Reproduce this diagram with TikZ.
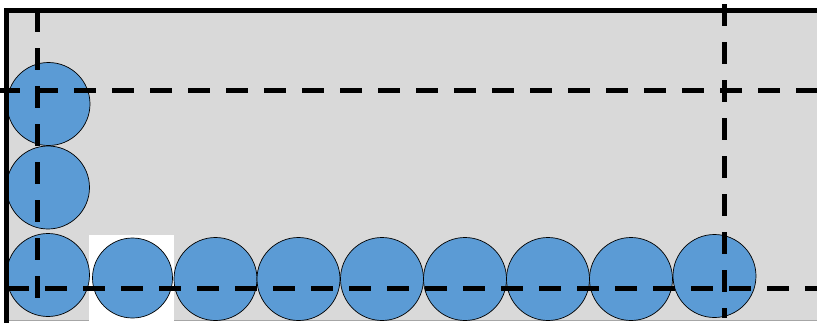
\documentclass[tikz,border=0pt]{standalone}
\usetikzlibrary{backgrounds}
\definecolor{panelgray}{HTML}{D9D9D9}
\definecolor{ballblue}{HTML}{5B9BD5}
\definecolor{edgegray}{HTML}{A6A6A6}
\tikzset{
  ball/.style={circle,draw=black,line width=0.7pt,fill=ballblue,inner sep=0pt,minimum size=#1},
  ball/.default=83pt,
  guide/.style={line width=5pt,dash pattern=on 21.5pt off 16.5pt,black},
  frame/.style={line width=4.8pt,black}
}
\begin{document}
\begin{tikzpicture}[x=1pt,y=-1pt]
\useasboundingbox (0,0) rectangle (817,322);
% panel
\fill[panelgray] (6.5,10.5) rectangle (820,320.5);
\draw[edgegray,line width=0.8pt] (6.5,320.8) -- (820,320.8);
% white square behind one ball
\fill[white] (89,235) rectangle (174,323);
% balls, left column
\node[ball] (l1) at (48.5,104) {};
\node[ball] (l2) at (48,187.5) {};
\node[ball] (l3) at (48,275) {};
% balls, bottom row
\node[ball=80pt] (b1) at (132.5,278) {};
\node[ball] (b2) at (215.5,279) {};
\node[ball] (b3) at (298.5,279) {};
\node[ball] (b4) at (382,279) {};
\node[ball] (b5) at (465,279) {};
\node[ball] (b6) at (548,279) {};
\node[ball] (b7) at (631,279) {};
\node[ball] (b8) at (714.5,276) {};
% dashed guides
\coordinate (h1a) at (-2,90);   \coordinate (h1b) at (820,90);
\coordinate (h2a) at (7,288);   \coordinate (h2b) at (820,288);
\coordinate (v1a) at (37,10);   \coordinate (v1b) at (37,299);
\coordinate (v2a) at (724,4);   \coordinate (v2b) at (724,318);
\draw[guide] (h1a) -- (h1b);
\draw[guide] (h2a) -- (h2b);
\draw[guide] (v1a) -- (v1b);
\draw[guide] (v2a) -- (v2b);
% frame
\coordinate (fa) at (6.5,323);
\coordinate (fb) at (6.5,10.5);
\coordinate (fc) at (820,10.5);
\draw[frame] (fa) -- (fb) -- (fc);
\end{tikzpicture}
\end{document}
